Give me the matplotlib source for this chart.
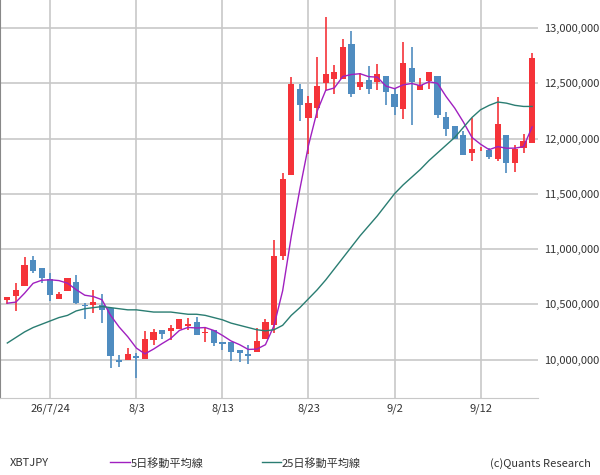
import matplotlib
matplotlib.use("Agg")
import matplotlib.pyplot as plt
from matplotlib.lines import Line2D
import numpy as np
import pandas as pd

plt.rcParams['font.family'] = ['Noto Sans CJK JP', 'DejaVu Sans']

opens = [10.54,10.575,10.666,10.90,10.83,10.726,10.548,10.62,10.70,10.494,10.497,10.49,10.463,9.996,10.0,10.032,
         10.008,10.177,10.267,10.261,10.273,10.304,10.34,10.237,10.267,10.159,10.159,10.086,10.05,10.071,10.189,10.313,
         10.94,11.673,12.448,12.188,12.279,12.505,12.535,12.541,12.855,12.469,12.526,12.514,12.566,12.403,12.27,12.638,
         12.442,12.523,12.566,12.192,12.113,12.029,11.872,11.902,11.896,11.817,12.029,11.781,11.917,11.962]
closes = [10.563,10.63,10.856,10.80,10.74,10.584,10.593,10.738,10.509,10.488,10.524,10.448,10.032,9.98,10.05,10.01,
          10.186,10.25,10.23,10.285,10.367,10.322,10.225,10.25,10.153,10.144,10.071,10.056,10.035,10.168,10.343,10.937,
          11.63,12.493,12.306,12.318,12.475,12.584,12.602,12.828,12.406,12.511,12.451,12.58,12.424,12.288,12.683,12.514,
          12.481,12.602,12.216,12.083,11.992,11.854,11.905,11.908,11.836,12.131,11.781,11.908,11.977,12.728]
highs = [10.565,10.696,10.93,10.94,10.83,10.786,10.614,10.738,10.768,10.515,10.63,10.59,10.463,10.04,10.107,10.06,
         10.26,10.273,10.267,10.316,10.367,10.373,10.382,10.282,10.267,10.159,10.159,10.086,10.13,10.282,10.364,11.08,
         11.69,12.56,12.493,12.384,12.74,13.097,12.665,12.897,12.973,12.59,12.656,12.674,12.566,12.454,12.873,12.828,
         12.545,12.602,12.566,12.24,12.113,12.065,12.188,11.92,11.91,12.373,12.029,11.938,12.04,12.777]
lows = [10.50,10.442,10.666,10.78,10.69,10.53,10.548,10.62,10.50,10.37,10.42,10.33,9.92,9.935,10.0,9.83,
        10.008,10.128,10.19,10.177,10.273,10.267,10.225,10.159,10.123,10.086,9.99,9.98,9.957,10.071,10.189,10.243,
        10.90,11.673,12.161,11.86,12.188,12.44,12.40,12.541,12.378,12.44,12.40,12.44,12.303,12.216,12.173,12.125,
        12.442,12.451,12.188,12.023,11.992,11.854,11.80,11.89,11.817,11.80,11.69,11.70,11.872,11.962]
ma5_head = [10.51, 10.52, 10.60, 10.69]
ma25 = [10.15,10.20,10.25,10.29,10.32,10.35,10.38,10.40,10.44,10.46,10.47,10.48,10.47,10.46,10.45,10.45,
        10.44,10.43,10.43,10.43,10.42,10.41,10.41,10.40,10.38,10.36,10.33,10.31,10.29,10.27,10.26,10.27,
        10.31,10.40,10.47,10.55,10.63,10.72,10.82,10.92,11.02,11.12,11.21,11.30,11.40,11.50,11.58,11.65,
        11.72,11.80,11.87,11.94,12.01,12.10,12.19,12.26,12.30,12.33,12.32,12.30,12.29,12.29]
tick_idx = [5, 15, 25, 35, 45, 55]
tick_labels = ["26/7/24", "8/3", "8/13", "8/23", "9/2", "9/12"]
yticks = [10.0, 10.5, 11.0, 11.5, 12.0, 12.5, 13.0]

ma5 = pd.Series(closes).rolling(5).mean().values
ma5[:4] = ma5_head

RED = "#f53339"
BLUE = "#4f8cc0"

fig = plt.figure(figsize=(6, 4.75), dpi=100)
ax = fig.add_axes([0.0, 0.162, 0.897, 0.838])
x = np.arange(len(opens))
for i in x:
    o, c, h, l = opens[i], closes[i], highs[i], lows[i]
    col = RED if c >= o else BLUE
    ax.vlines(i, l, h, color=col, lw=1.2, zorder=3)
    ax.bar(i, max(abs(c - o), 0.006), bottom=min(o, c), width=0.72, color=col, zorder=3)
ax.plot(x, ma5, color="#a020c0", lw=1.0, zorder=4)
ax.plot(x, ma25, color="#2a7d72", lw=1.0, zorder=4)

ax.set_xlim(-0.85, 61.7)
ax.set_ylim(9.652, 13.253)
ax.set_xticks(tick_idx)
ax.set_xticklabels(tick_labels, fontsize=8)
ax.set_yticks(yticks)
ax.set_yticklabels([f"{int(round(v*1e6)):,}" for v in yticks], fontsize=8)
ax.yaxis.tick_right()
ax.tick_params(length=0, pad=4, colors="#333333")
ax.grid(True, color="#c8c8c8", lw=1.2)
ax.set_axisbelow(True)
for s in ["top", "right"]:
    ax.spines[s].set_visible(False)
ax.spines["left"].set_color("#888888")
ax.spines["bottom"].set_color("#c8c8c8")

fig.text(0.017, 0.018, "XBTJPY", fontsize=8, color="#333333")
fig.add_artist(Line2D([0.183, 0.217], [0.027, 0.027], color="#a020c0", lw=1.0))
fig.text(0.218, 0.018, "5日移動平均線", fontsize=8, color="#333333")
fig.add_artist(Line2D([0.437, 0.468], [0.027, 0.027], color="#2a7d72", lw=1.0))
fig.text(0.469, 0.018, "25日移動平均線", fontsize=8, color="#333333")
fig.text(0.985, 0.018, "(c)Quants Research", fontsize=8, color="#333333", ha="right")

fig.savefig("out.png", dpi=100)
